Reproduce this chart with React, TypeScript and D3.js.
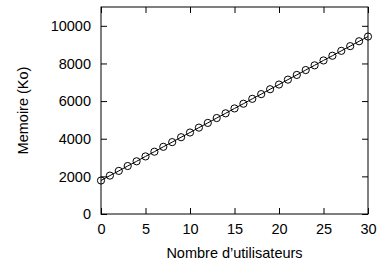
import React, { useEffect, useRef } from 'react'
import { select, scaleLinear, line, axisBottom, axisLeft, axisTop, axisRight } from 'd3'

const users = [0, 1, 2, 3, 4, 5, 6, 7, 8, 9, 10, 11, 12, 13, 14, 15, 16, 17, 18, 19, 20, 21, 22, 23, 24, 25, 26, 27, 28, 29, 30]
const memory = [1780, 2040, 2290, 2550, 2800, 3060, 3310, 3570, 3820, 4080, 4330, 4590, 4840, 5100, 5350, 5610, 5860, 6120, 6370, 6630, 6880, 7140, 7390, 7650, 7900, 8160, 8410, 8670, 8920, 9180, 9430]
const xTicks = [0, 5, 10, 15, 20, 25, 30]
const yTicks = [0, 2000, 4000, 6000, 8000, 10000]

export default function App() {
  const ref = useRef<SVGSVGElement>(null)

  const width = 378, height = 261
  const margin = { top: 7, right: 10, bottom: 47, left: 101 }
  const w = width - margin.left - margin.right
  const h = height - margin.top - margin.bottom

  useEffect(() => {
    const svg = select(ref.current)
    svg.selectAll('*').remove()
    const g = svg.append('g').attr('transform', `translate(${margin.left},${margin.top})`)

    const x = scaleLinear().domain([0, 30]).range([0, w])
    const y = scaleLinear().domain([0, 11000]).range([h, 0])

    const font = 'Liberation Sans, Arial, sans-serif'
    const fs = '14.5px'

    // bottom / left with labels, top / right mirrored ticks
    const bottom = g.append('g').attr('transform', `translate(0,${h})`)
      .call(axisBottom(x).tickValues(xTicks).tickSizeInner(-6).tickSizeOuter(0).tickPadding(10).tickFormat(d => String(d)))
    const left = g.append('g')
      .call(axisLeft(y).tickValues(yTicks).tickSizeInner(-6).tickSizeOuter(0).tickPadding(10).tickFormat(d => String(d)))
    g.append('g').call(axisTop(x).tickValues(xTicks).tickSizeInner(-6).tickSizeOuter(0).tickFormat(() => ''))
    g.append('g').attr('transform', `translate(${w},0)`)
      .call(axisRight(y).tickValues(yTicks).tickSizeInner(-6).tickSizeOuter(0).tickFormat(() => ''))

    g.selectAll('.domain').remove()
    g.selectAll('.tick line').attr('stroke', '#000')
    bottom.selectAll('text').style('font-family', font).style('font-size', fs).attr('fill', '#000')
    left.selectAll('text').style('font-family', font).style('font-size', fs).attr('fill', '#000')

    g.append('rect').attr('x', 0).attr('y', 0).attr('width', w).attr('height', h)
      .attr('fill', 'none').attr('stroke', '#000').attr('stroke-width', 1)

    const pts = users.map((u, i) => [u, memory[i]] as [number, number])

    g.append('path')
      .datum(pts)
      .attr('fill', 'none')
      .attr('stroke', '#000')
      .attr('stroke-width', 1)
      .attr('d', line<[number, number]>().x(d => x(d[0])).y(d => y(d[1])))

    g.selectAll('circle.pt')
      .data(pts)
      .join('circle')
      .attr('class', 'pt')
      .attr('cx', d => x(d[0]))
      .attr('cy', d => y(d[1]))
      .attr('r', 3.6)
      .attr('fill', 'none')
      .attr('stroke', '#000')
      .attr('stroke-width', 1)

    svg.append('text')
      .attr('x', margin.left + w / 2)
      .attr('y', 258)
      .attr('text-anchor', 'middle')
      .style('font-family', font)
      .style('font-size', fs)
      .text('Nombre d\u2019utilisateurs')

    svg.append('text')
      .attr('transform', `translate(28,${margin.top + h / 2}) rotate(-90)`)
      .attr('text-anchor', 'middle')
      .style('font-family', font)
      .style('font-size', fs)
      .text('Memoire (Ko)')
  }, [])

  return (
    <svg ref={ref} width={width} height={height}
      style={{ position: 'absolute', left: 0, top: 0, background: '#fff' }} />
  )
}
